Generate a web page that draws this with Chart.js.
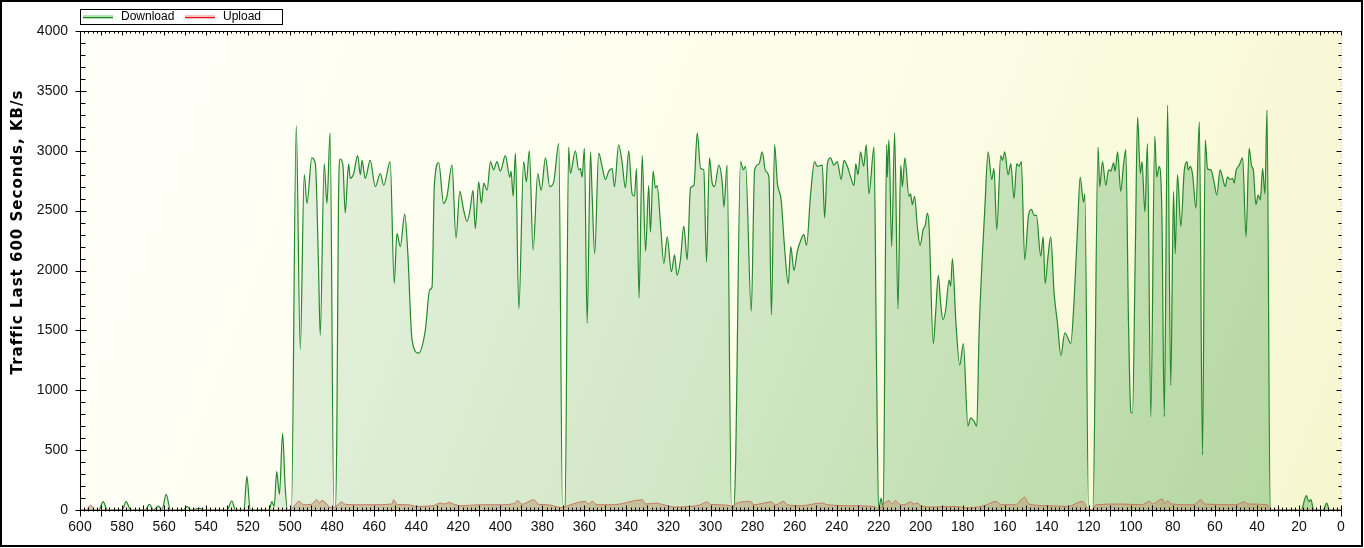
<!DOCTYPE html>
<html>
<head>
<meta charset="utf-8">
<script src="https://cdn.jsdelivr.net/npm/chart.js@4.4.1/dist/chart.umd.min.js"></script>
<style>
  html, body { margin: 0; padding: 0; background: #ffffff; }
  canvas { display: block; }
</style>
</head>
<body>
<canvas id="c" width="1364" height="548"></canvas>
<script>
// ---- Data (seconds ago, KB/s) ----
const downloadTimes = [600,591,589,587,580,578,576,569,567,565,562.7,561,559,557,551,549,547,543,541,530,527.8,526,522,520.6,519,510,508.7,507.6,506.4,505.1,503.6,502.4,501.3,499.4,497.1,495.2,493.3,492,489.7,488,486.5,485.7,483.8,482.5,481,479.2,478.5,477.8,477,476.2,474.9,473.8,472.2,471.4,469.8,467.9,466.6,465.8,464.3,461.9,459.5,457.1,455.5,452.4,450.5,449.2,447.6,445.5,444.1,442,438.9,435.7,433.6,432.5,431.4,429.3,427,425.4,423,421.1,419.3,417.4,415.8,414.3,413,411.9,410.3,409,407.9,406.3,404.7,403.2,401.6,400,397.6,395.5,394.9,393.9,392.8,391.2,388.9,387.6,386.2,384.4,382.2,380.6,378.5,376.5,374.6,372.2,370.4,369.2,367.5,366.7,364.3,362.7,361.9,361.1,360,358.7,357.1,356.3,355.1,353.2,351.6,350,348.4,346.8,345.7,343.7,342.1,340.5,338.9,337.3,336.2,335.2,334,332.5,330.9,329.4,328.6,327.3,326.2,325.4,323.8,322.2,320.6,318.6,317.1,315.9,314.3,312.7,311.1,309.5,307.9,306.3,304.7,303.2,301.9,300.5,299.2,298.1,296,294.4,293.6,292.1,290,289,288.1,285.7,284.4,283.3,280.6,279,276.9,275.4,273.8,272.2,271,269.5,268.2,266.4,264.8,263,261.8,260.3,258.7,257.1,255.6,254.3,252.4,250.5,249.2,246.8,245.7,244.4,242.9,241.3,239.7,237.8,236.5,234.9,233.3,231.7,230.9,229.8,228.6,227.1,225.9,224.6,222.2,221,220,218.8,217.8,216.2,215.9,215.1,213.8,212.4,210.8,209.5,208.7,207.5,205.6,204.8,204,202.9,201.6,200.3,198.7,197.9,196.8,196,194,192.9,191.6,190.5,189.4,188.1,186.5,185.7,184.9,183.3,181.4,179.7,177.5,176.2,174.6,173.3,172.2,170.6,169.5,167.9,166.2,165.1,163.8,161.9,161.1,160,158.4,157.1,155.6,154.3,153.2,152.1,150.5,148.7,147.3,146,144.9,142.9,141.7,140.8,139.4,138.1,136.5,134.9,133.3,131.4,129.8,128.6,127,125.4,124.1,122.5,121.9,120.1,118,115.6,114.8,113.5,111.9,110.6,109.5,108.2,107.5,106.3,104.8,103.5,102.4,101.1,100,99.2,97.9,96.8,95.5,94.7,93.3,92.1,90.5,88.6,87.7,86.5,85.2,84.1,82.5,81,79.7,78.9,77.8,76.2,74.6,73.3,72.7,71.7,70.6,69,67.4,65.9,64.6,63.5,61.9,60.3,59.1,57.5,56.3,55.1,54,52.7,51.6,50.8,50,48.4,46.8,45.2,43.7,42.5,41.7,40.5,39.4,38.4,37.3,36.2,35.2,33.7,19,16.5,15.3,14.3,13,8.5,6.8,5.5,0];
const downloadValues = [0,0,70,0,0,70,0,0,47,0,33,0,130,0,0,28,0,14,0,0,75,0,0,280,0,0,70,30,320,130,640,200,0,0,3210,1340,2800,2560,2940,2890,2030,1460,2890,2560,3150,0,0,640,2590,2930,2880,2480,2890,2770,2810,2960,2800,2920,2770,2920,2700,2810,2710,2910,1890,2310,2200,2470,2170,1420,1310,1500,1840,1860,2710,2900,2560,2620,2880,2270,2660,2500,2410,2520,2670,2350,2740,2560,2730,2670,2910,2840,2910,2830,2960,2780,2830,2620,2980,1680,2910,2740,3000,2170,2810,2670,2940,2700,2740,3060,0,0,3030,2810,3000,2840,2850,2780,3020,1560,2990,2620,2140,2980,2870,2760,2830,2850,2700,3050,2910,2690,3000,2640,2620,2850,1770,2960,2160,2710,2320,2830,2690,2710,2390,2060,2280,1990,2130,1960,2090,2370,2090,2690,2710,3150,2850,2840,2070,2940,2730,2700,2880,2730,2530,2880,0,0,360,2910,2840,2870,1660,2840,2890,2990,2830,2780,1630,3050,2730,2590,2200,1890,2200,2000,2160,2250,2300,2210,2630,2910,2870,2880,2440,2890,2940,2880,2910,2760,2920,2870,2780,2710,2890,2800,2990,2870,3050,2640,3030,1200,0,100,0,3050,2780,3090,2200,3150,1680,2880,2700,2940,2620,2640,2550,2620,2370,2210,2350,2370,2480,2370,1390,1640,1960,1730,1590,1670,1920,1870,2100,1590,1210,1390,700,770,740,700,1480,2140,2510,2990,2760,2850,2340,2960,2920,2990,2800,2890,2600,2890,2870,2910,2090,2460,2510,2460,2460,2120,2280,1890,2120,2280,1810,1560,1290,1480,1430,1390,1750,2340,2780,2570,2640,0,0,3030,2700,2910,2710,2840,2830,2900,2830,2990,2660,2880,3010,1560,820,810,2120,3280,2810,2910,2490,3060,780,3120,2780,2870,2450,780,3380,1040,2660,2140,2800,2370,2830,2910,2840,2870,2800,2520,3240,460,3090,2850,2840,2730,2630,2840,2770,2700,2780,2760,2770,2730,2830,2880,2940,2280,3020,2870,2840,2550,2630,2590,2850,2640,3340,0,0,120,70,86,0,0,58,0,0];

const uploadTimes = [600,597,595,593,500,498.4,495.7,493.6,490,487.3,486,484.9,483,481,479.5,477,475.4,473.8,468.3,460,451.5,450.8,449.2,444,439.7,432,428.6,426.3,424.6,422.3,419,409.5,400,393.7,391.7,389.7,384.1,381.7,377.7,370.6,368,359.5,358,356.3,354,346,332.5,330.9,325.4,323.8,320.6,317.5,309.5,304.8,301.6,300,290.5,289.5,288.9,281,279.4,271.1,269,265.1,263.5,257,246.8,244.4,233.3,222.2,219.8,218.3,215.1,213.5,211.9,210.3,208,204.8,203.2,201.6,200,193.7,184,177.8,173,169.8,164,162,155,150.5,148.5,140,130,123,120.6,118.2,116.7,105,95,91,89.8,84.9,83.8,82.5,80.8,70,66.7,65.1,50,46,44.4,34.9,34.1,0];
const uploadValues = [0,0,42,0,0,30,72,44,47,86,58,80,58,22,20,50,67,47,44,44,50,86,47,44,30,36,58,50,64,50,36,44,44,53,78,47,86,47,44,20,36,72,50,72,44,44,86,50,58,50,36,25,30,44,67,47,36,5,44,72,44,67,44,72,44,36,58,44,36,30,3,36,78,50,78,50,44,67,50,58,36,25,30,17,25,36,72,44,44,106,50,36,30,72,17,0,44,50,44,72,50,92,50,78,50,44,86,50,44,67,50,44,0,0];

const xTickStep = 20;
const yTickStep = 500;
const yAxisTitle = 'Traffic Last 600 Seconds, KB/s';

function toPoints(ts, vs) { return ts.map((t, i) => ({ x: t, y: vs[i] })); }

const framePlugin = {
  id: 'frame',
  beforeDraw(chart) {
    const ctx = chart.ctx, a = chart.chartArea;
    ctx.save();
    ctx.fillStyle = '#ffffff';
    ctx.fillRect(0, 0, chart.width, chart.height);
    const g = ctx.createLinearGradient(a.left, a.top, a.right, a.bottom);
    g.addColorStop(0, '#fffff9');
    g.addColorStop(0.55, '#fdfde9');
    g.addColorStop(1, '#f6f6d0');
    ctx.fillStyle = g;
    ctx.fillRect(a.left, a.top, a.right - a.left, a.bottom - a.top);
    ctx.restore();
  },
  afterDraw(chart) {
    const ctx = chart.ctx, a = chart.chartArea;
    const xs = chart.scales.x, ys = chart.scales.y;
    ctx.save();
    ctx.lineWidth = 1;
    // right edge (light dotted)
    ctx.strokeStyle = '#c8c8c8';
    ctx.setLineDash([1, 2]);
    ctx.beginPath();
    ctx.moveTo(Math.round(a.right) + 0.5, a.top);
    ctx.lineTo(Math.round(a.right) + 0.5, a.bottom);
    ctx.stroke();
    ctx.setLineDash([]);
    ctx.strokeStyle = '#000000';
    ctx.beginPath();
    const L = Math.round(a.left) + 0.5, B = Math.round(a.bottom) + 0.5;
    const T = Math.round(a.top) + 0.5, R = Math.round(a.right) + 0.5;
    ctx.moveTo(L, T); ctx.lineTo(L, B);
    ctx.moveTo(L, B); ctx.lineTo(R, B);
    ctx.moveTo(L, T); ctx.lineTo(R, T);
    // y ticks
    for (let v = ys.min; v <= ys.max; v += 100) {
      const y = Math.round(ys.getPixelForValue(v)) + 0.5;
      if (v % yTickStep === 0) {
        ctx.moveTo(L - 5, y); ctx.lineTo(L + 6, y);
        ctx.moveTo(R - 5, y); ctx.lineTo(R, y);
      } else {
        ctx.moveTo(L, y); ctx.lineTo(L + 5, y);
        ctx.moveTo(R - 3, y); ctx.lineTo(R, y);
      }
    }
    // x ticks
    for (let t = xs.min; t <= xs.max; t += 2) {
      const x = Math.round(xs.getPixelForValue(t)) + 0.5;
      if (t % 10 === 0) {
        ctx.moveTo(x, B - 5); ctx.lineTo(x, B + 6);
        ctx.moveTo(x, T); ctx.lineTo(x, T + 4);
      } else {
        ctx.moveTo(x, B - 3); ctx.lineTo(x, B + 1);
        ctx.moveTo(x, T); ctx.lineTo(x, T + 2);
      }
    }
    ctx.stroke();

    // y axis title
    ctx.save();
    ctx.translate(18, 232);
    ctx.rotate(-Math.PI / 2);
    ctx.textAlign = 'center';
    ctx.textBaseline = 'middle';
    ctx.fillStyle = '#000000';
    ctx.font = 'bold 15px "DejaVu Sans", Verdana, sans-serif';
    if ('letterSpacing' in ctx) ctx.letterSpacing = '1px';
    ctx.fillText(yAxisTitle, 0, 0);
    ctx.restore();

    // legend
    const lx = 80.5, ly = 9.5, lw = 202, lh = 15;
    ctx.fillStyle = '#ffffff';
    ctx.fillRect(lx, ly, lw, lh);
    ctx.strokeStyle = '#000000';
    ctx.lineWidth = 1;
    ctx.strokeRect(lx, ly, lw, lh);
    const items = chart.data.datasets;
    const sampleX = [83, 185];
    const halo = ['rgba(120,200,120,0.55)', 'rgba(250,150,150,0.6)'];
    ctx.font = '12px "Liberation Sans", Arial, sans-serif';
    ctx.textBaseline = 'middle';
    ctx.textAlign = 'left';
    items.forEach((ds, i) => {
      const sx = sampleX[i], sy = 17;
      ctx.strokeStyle = halo[i];
      ctx.lineWidth = 4;
      ctx.beginPath(); ctx.moveTo(sx, sy); ctx.lineTo(sx + 30, sy); ctx.stroke();
      ctx.strokeStyle = ds.legendColor;
      ctx.lineWidth = 1;
      ctx.beginPath(); ctx.moveTo(sx, sy + 0.5); ctx.lineTo(sx + 30, sy + 0.5); ctx.stroke();
      ctx.fillStyle = '#000000';
      ctx.fillText(ds.label, sx + 38, sy);
    });

    // outer frame
    ctx.lineWidth = 2;
    ctx.strokeStyle = '#000000';
    ctx.strokeRect(1, 1, chart.width - 3, chart.height - 3);
    ctx.restore();
  }
};

function downloadFill(c) {
  const chart = c.chart, a = chart.chartArea;
  if (!a) return 'rgba(200,230,190,0.8)';
  const g = chart.ctx.createLinearGradient(a.left, a.top, a.right, a.bottom);
  g.addColorStop(0, '#eff6ea');
  g.addColorStop(0.5, '#d3e8c8');
  g.addColorStop(1, '#b2d69e');
  return g;
}

new Chart(document.getElementById('c'), {
  type: 'line',
  data: {
    datasets: [
      {
        label: 'Download',
        legendColor: '#1a8a1a',
        data: toPoints(downloadTimes, downloadValues),
        borderColor: '#23882a',
        borderWidth: 1.2,
        backgroundColor: downloadFill,
        fill: 'origin',
        pointRadius: 0,
        cubicInterpolationMode: 'monotone',
        order: 2
      },
      {
        label: 'Upload',
        legendColor: '#e01010',
        data: toPoints(uploadTimes, uploadValues),
        borderColor: '#c87862',
        borderWidth: 1,
        backgroundColor: 'rgba(190,165,125,0.6)',
        fill: 'origin',
        pointRadius: 0,
        cubicInterpolationMode: 'monotone',
        order: 1
      }
    ]
  },
  options: {
    responsive: false,
    animation: false,
    devicePixelRatio: 1,
    layout: { padding: { top: 31, right: 23, left: 0, bottom: 0 } },
    plugins: { legend: { display: false }, tooltip: { enabled: false } },
    scales: {
      x: {
        type: 'linear',
        reverse: true,
        min: 0,
        max: 600,
        grid: { display: false, drawTicks: false },
        border: { display: false },
        ticks: {
          stepSize: xTickStep,
          autoSkip: false,
          maxRotation: 0,
          padding: 9,
          color: '#111111',
          callback: (v) => String(v),
          font: { family: '"Liberation Sans", Arial, sans-serif', size: 14 }
        },
        afterFit(s) { s.height = 38; }
      },
      y: {
        min: 0,
        max: 4000,
        grid: { display: false, drawTicks: false },
        border: { display: false },
        ticks: {
          stepSize: yTickStep,
          padding: 12,
          color: '#111111',
          callback: (v) => String(v),
          font: { family: '"Liberation Sans", Arial, sans-serif', size: 14 }
        },
        title: { display: false },
        afterFit(s) { s.width = 80; }
      }
    }
  },
  plugins: [framePlugin]
});
</script>
</body>
</html>
